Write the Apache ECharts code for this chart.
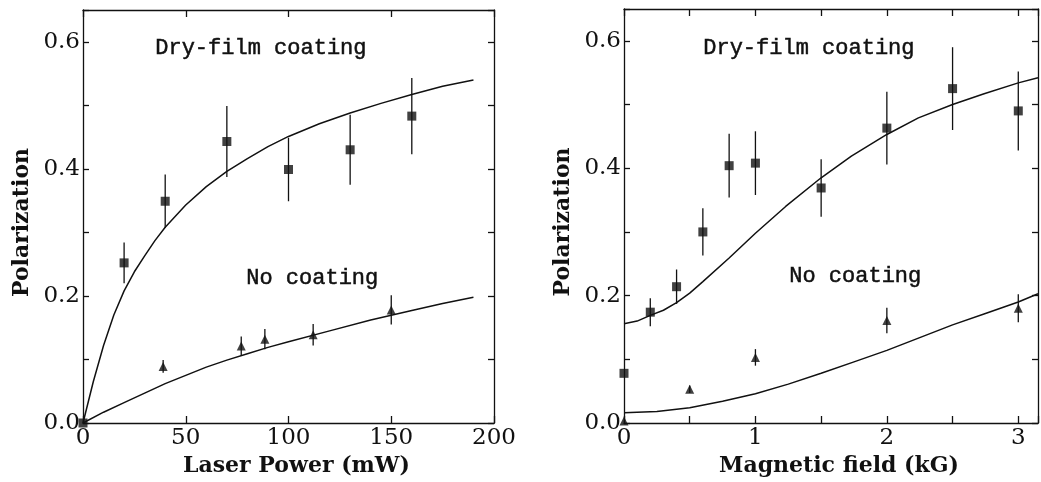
<!DOCTYPE html>
<html>
<head>
<meta charset="utf-8">
<script src="https://cdn.jsdelivr.net/npm/echarts@6/dist/echarts.min.js"></script>
<style>
html,body{margin:0;padding:0;background:#fff;}
#main{width:1041px;height:482px;}
</style>
</head>
<body>
<div id="main"></div>
<script>
// left panel: polarization vs laser power (mW)
var powerDry = [0, 20, 40, 70, 100, 130, 160];
var polDry = [0, 0.252, 0.349, 0.443, 0.399, 0.430, 0.483];
var errDry = [0, 0.032, 0.042, 0.056, 0.050, 0.055, 0.060];
var powerNone = [39, 77, 88.5, 112, 150];
var polNone = [0.089, 0.121, 0.132, 0.139, 0.178];
var errNone = [0.010, 0.015, 0.016, 0.017, 0.023];
// fitted curves
var fitPowerX = [0, 5, 10, 15, 20, 25, 30, 35, 40, 50, 60, 70, 80, 90, 100, 115, 130, 145, 160, 175, 190];
var fitDryY = [0, 0.065, 0.122, 0.170, 0.208, 0.238, 0.263, 0.287, 0.308, 0.343, 0.372, 0.396, 0.416, 0.435, 0.451, 0.471, 0.488, 0.503, 0.517, 0.530, 0.540];
var fitNoneX = [0, 10, 20, 30, 40, 50, 60, 70, 80, 90, 100, 120, 140, 160, 175, 190];
var fitNoneY = [0, 0.017, 0.032, 0.047, 0.062, 0.075, 0.088, 0.099, 0.109, 0.119, 0.128, 0.145, 0.162, 0.177, 0.188, 0.198];

// right panel: polarization vs magnetic field (kG)
var fieldDry = [0, 0.2, 0.4, 0.6, 0.8, 1.0, 1.5, 2.0, 2.5, 3.0];
var polDryB = [0.078, 0.174, 0.214, 0.300, 0.404, 0.408, 0.369, 0.463, 0.525, 0.490];
var errDryB = [0, 0.022, 0.027, 0.037, 0.050, 0.050, 0.045, 0.057, 0.065, 0.062];
var fieldNone = [0, 0.5, 1.0, 2.0, 3.0];
var polNoneB = [0.003, 0.053, 0.103, 0.161, 0.180];
var errNoneB = [0, 0.006, 0.013, 0.020, 0.022];
var fitFieldX = [0, 0.1, 0.2, 0.3, 0.4, 0.5, 0.6, 0.8, 1.0, 1.23, 1.5, 1.73, 2.0, 2.24, 2.5, 2.74, 3.0, 3.15];
var fitDryBY = [0.156, 0.160, 0.169, 0.177, 0.189, 0.204, 0.222, 0.259, 0.298, 0.340, 0.385, 0.419, 0.453, 0.479, 0.500, 0.517, 0.534, 0.542];
var fitNoneBX = [0, 0.25, 0.5, 0.75, 1.0, 1.25, 1.5, 1.75, 2.0, 2.25, 2.5, 2.75, 3.0, 3.15];
var fitNoneBY = [0.016, 0.018, 0.024, 0.034, 0.046, 0.061, 0.078, 0.096, 0.114, 0.134, 0.154, 0.172, 0.190, 0.203];

function pairs(xs, ys) {
    var out = [];
    for (var i = 0; i < xs.length; i++) out.push([xs[i], ys[i]]);
    return out;
}
function triples(xs, ys, es) {
    var out = [];
    for (var i = 0; i < xs.length; i++) out.push([xs[i], ys[i], es[i]]);
    return out;
}

var serif = 'DejaVu Serif';
var labelStyle = {fontFamily: serif, fontSize: 23, color: '#111'};
var nameStyle = {fontFamily: serif, fontSize: 22, fontWeight: 'bold', color: '#111'};
var lineStyle = {color: '#111', width: 1.3};

function yLabel(v) {
    var k = Math.round(v * 10);
    if (k % 2 !== 0 || v > 0.61) return '';
    return v.toFixed(1);
}

function xAxisPair(gi, min, max, interval, name, fmt) {
    return [{
        type: 'value', gridIndex: gi, position: 'bottom', min: min, max: max, interval: interval,
        name: name, nameLocation: 'middle', nameGap: 31,
        nameTextStyle: Object.assign({padding: [0, 0, 0, 16]}, nameStyle),
        axisLine: {onZero: false, lineStyle: lineStyle},
        axisTick: {inside: true, length: 7, lineStyle: lineStyle},
        axisLabel: Object.assign({margin: 4, formatter: fmt}, labelStyle),
        splitLine: {show: false}
    }, {
        type: 'value', gridIndex: gi, position: 'top', min: min, max: max, interval: interval,
        axisLine: {onZero: false, lineStyle: lineStyle},
        axisTick: {inside: true, length: 7, lineStyle: lineStyle},
        axisLabel: {show: false},
        splitLine: {show: false}
    }];
}
function yAxisPair(gi) {
    return [{
        type: 'value', gridIndex: gi, position: 'left', min: 0, max: 0.65, interval: 0.1,
        name: 'Polarization', nameLocation: 'middle', nameGap: 50,
        nameTextStyle: Object.assign({padding: [0, 12, 0, 0]}, nameStyle),
        axisLine: {onZero: false, lineStyle: lineStyle},
        axisTick: {inside: true, length: 6, lineStyle: lineStyle},
        axisLabel: Object.assign({margin: 3, formatter: yLabel}, labelStyle),
        splitLine: {show: false}
    }, {
        type: 'value', gridIndex: gi, position: 'right', min: 0, max: 0.65, interval: 0.1,
        axisLine: {onZero: false, lineStyle: lineStyle},
        axisTick: {inside: true, length: 6, lineStyle: lineStyle},
        axisLabel: {show: false},
        splitLine: {show: false}
    }];
}

function errorBars(data, xi, yi) {
    return {
        type: 'custom', xAxisIndex: xi, yAxisIndex: yi, data: data,
        encode: {x: 0, y: 1}, z: 3, silent: true,
        renderItem: function (params, api) {
            var x = api.value(0), y = api.value(1), e = api.value(2);
            if (!e) return null;
            var p1 = api.coord([x, y - e]);
            var p2 = api.coord([x, y + e]);
            return {
                type: 'line',
                shape: {x1: p1[0], y1: p1[1], x2: p2[0], y2: p2[1]},
                style: {stroke: '#111', lineWidth: 1.3}
            };
        }
    };
}
function points(data, xi, yi, sym, size) {
    return {
        type: 'scatter', xAxisIndex: xi, yAxisIndex: yi, data: data,
        symbol: sym, symbolSize: size, clip: false, z: 4,
        itemStyle: {color: '#111'}
    };
}
function curve(data, xi, yi) {
    return {
        type: 'line', xAxisIndex: xi, yAxisIndex: yi, data: data,
        showSymbol: false, smooth: false, z: 2,
        lineStyle: {color: '#111', width: 1.5}
    };
}

function note(txt, x, y) {
    return {type: 'text', left: x, top: y,
        style: {text: txt, font: '22px "Liberation Mono"', fill: '#111', stroke: '#111', lineWidth: 0.5}};
}

var chart = echarts.init(document.getElementById('main'));
var option = {
    backgroundColor: '#fff',
    animation: false,
    grid: [
        {left: 83, right: 547, top: 10, bottom: 59},
        {left: 624, right: 0, top: 9, bottom: 59}
    ],
    xAxis: xAxisPair(0, 0, 200, 50, 'Laser Power (mW)', function (v) { return v % 50 === 0 ? String(v) : ''; })
        .concat(xAxisPair(1, 0, 3.15, 0.5, 'Magnetic field (kG)', function (v) { return v % 1 === 0 ? String(v) : ''; })),
    yAxis: yAxisPair(0).concat(yAxisPair(1)),
    graphic: [
        note('Dry-film coating', 155, 37),
        note('No coating', 246, 267),
        note('Dry-film coating', 703, 37),
        note('No coating', 789, 265)
    ],
    series: [
        curve(pairs(fitPowerX, fitDryY), 0, 0),
        curve(pairs(fitNoneX, fitNoneY), 0, 0),
        errorBars(triples(powerDry, polDry, errDry), 0, 0),
        errorBars(triples(powerNone, polNone, errNone), 0, 0),
        points(pairs(powerDry, polDry), 0, 0, 'rect', 9),
        points(pairs(powerNone, polNone), 0, 0, 'triangle', 9),

        curve(pairs(fitFieldX, fitDryBY), 2, 2),
        curve(pairs(fitNoneBX, fitNoneBY), 2, 2),
        errorBars(triples(fieldDry, polDryB, errDryB), 2, 2),
        errorBars(triples(fieldNone, polNoneB, errNoneB), 2, 2),
        points(pairs(fieldDry, polDryB), 2, 2, 'rect', 9),
        points(pairs(fieldNone, polNoneB), 2, 2, 'triangle', 9)
    ]
};
chart.setOption(option);
</script>
</body>
</html>
